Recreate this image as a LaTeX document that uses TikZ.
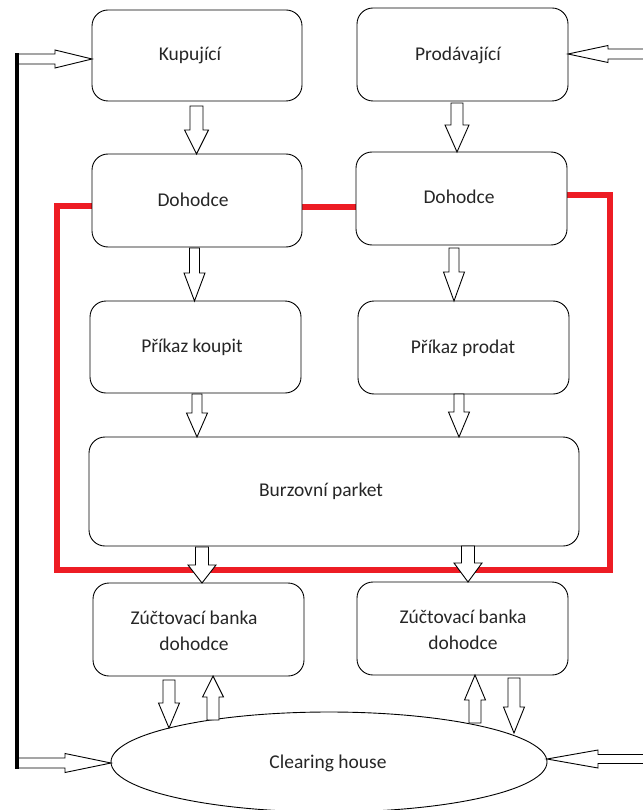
\documentclass[tikz,border=0pt]{standalone}
\usepackage{fontspec}
\setmainfont{Carlito}
\usetikzlibrary{shapes.geometric}
\definecolor{lnred}{RGB}{237,28,36}
\tikzset{
  box/.style={draw=black, line width=0.9pt, rounded corners=16pt, fill=white, inner sep=0pt},
  txt/.style={font=\fontsize{19.5}{26}\selectfont, text=black!85, align=center, inner sep=0pt},
  barrow/.style={draw=black, line width=0.9pt, fill=white, line join=miter},
  redline/.style={draw=lnred, line width=6.5pt},
  blackline/.style={draw=black, line width=4pt}
}
% vertical block arrow: x, ytail, yheadbase, ytip, shaft half width, head half width
\newcommand\vblock[6]{\draw[barrow] (#1-#5,#2) -- (#1+#5,#2) -- (#1+#5,#3) -- (#1+#6,#3) -- (#1,#4) -- (#1-#6,#3) -- (#1-#5,#3) -- cycle;}
% horizontal block arrow: y, xtail, xheadbase, xtip, shaft half width, head half width
\newcommand\hblock[6]{\draw[barrow] (#2,#1-#5) -- (#3,#1-#5) -- (#3,#1-#6) -- (#4,#1) -- (#3,#1+#6) -- (#3,#1+#5) -- (#2,#1+#5) -- cycle;}
\begin{document}
\begin{tikzpicture}[x=1pt,y=-1pt]
\useasboundingbox[fill=white] (0,0) rectangle (642,810);

% red line (behind)
\coordinate (rl1) at (57,206);
\coordinate (rl2) at (57,570);
\coordinate (rr1) at (610,570);
\coordinate (rr2) at (610,195);
\draw[redline] (92,206) -- (rl1) -- (rl2) -- (rr1) -- (rr2) -- (567,195);
\draw[redline] (302,207) -- (356,207);

% boxes
\node[box, minimum width=210pt, minimum height=91pt] (kup) at (197,55.5) {};
\node[box, minimum width=211pt, minimum height=93pt] (pro) at (462.5,54.5) {};
\node[box, minimum width=210pt, minimum height=93pt] (dohL) at (197,200.5) {};
\node[box, minimum width=211pt, minimum height=93pt] (dohR) at (461.5,198.5) {};
\node[box, minimum width=211pt, minimum height=92pt] (prikK) at (195.5,347) {};
\node[box, minimum width=211pt, minimum height=93pt] (prikP) at (463.5,347.5) {};
\node[box, minimum width=490pt, minimum height=109pt] (burz) at (334,491.5) {};
\node[box, minimum width=211pt, minimum height=93pt] (zucL) at (198.5,629.5) {};
\node[box, minimum width=211pt, minimum height=93pt] (zucR) at (462.5,628.5) {};
\node[draw=black, line width=0.9pt, ellipse, fill=white, minimum width=436pt, minimum height=100pt, inner sep=0pt] (ch) at (329,762) {};

% texts
\node[txt] (kupT) at (190,55) {Kupující};
\node[txt] (proT) at (458,55) {Prodávající};
\node[txt] (dohLT) at (193,200) {Dohodce};
\node[txt] (dohRT) at (459,197) {Dohodce};
\node[txt] (prikKT) at (192,347) {Příkaz koupit};
\node[txt] (prikPT) at (463,348) {Příkaz prodat};
\node[txt] (burzT) at (321,491) {Burzovní parket};
\node[txt] (zucLT) at (194,631) {Zúčtovací banka\\dohodce};
\node[txt] (zucRT) at (463,630) {Zúčtovací banka\\dohodce\hspace{18pt}};
\node[txt] (chT) at (328,763) {Clearing house};

% vertical block arrows
\vblock{196.5}{106}{130}{154}{6.5}{12}
\vblock{457}{103}{125}{152}{6}{12}
\vblock{194.5}{248}{273}{301}{5}{10.5}
\vblock{454}{248}{272}{301}{5}{10.5}
\vblock{197}{394}{413}{437}{5}{10.5}
\vblock{459}{394}{412}{437}{5}{10.5}
\vblock{202}{547}{565}{583}{6.5}{14}
\vblock{468}{546}{563}{582}{6.5}{14}
\vblock{169}{680}{703}{728}{6}{10.5}
\vblock{213}{720}{697}{676}{6}{10.5}
\vblock{475}{723}{700}{675}{6}{10.5}
\vblock{514}{678}{707}{733}{6}{10.5}

% horizontal block arrows
\hblock{59}{16}{55}{92}{5}{9}
\hblock{763}{16}{65}{111}{5}{9.5}
\hblock{54}{650}{608}{568}{5}{8.5}
\hblock{759}{650}{598}{547}{4.5}{9}

% black feedback line
\draw[blackline] (16.5,53.5) -- (16.5,768.5);
\end{tikzpicture}
\end{document}
